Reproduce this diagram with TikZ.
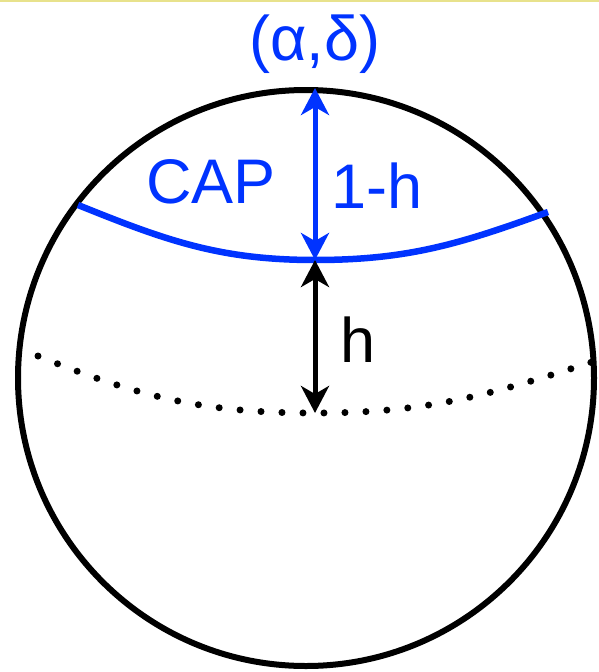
\documentclass[tikz,border=0pt]{standalone}
\usepackage{fontspec}
\setmainfont{Liberation Sans}
\usetikzlibrary{arrows.meta}
\definecolor{CapBlue}  {RGB}{  0,  51, 255}
\definecolor{EdgeBlack}{RGB}{  0,   0,   0}
\definecolor{TopYellow}{RGB}{232, 226, 140}
\tikzset{
  % sphere outline
  sphereline/.style={
    draw=EdgeBlack, line width=6pt
  },
  % cap boundary
  capline/.style={
    draw=CapBlue, line width=6.5pt
  },
  % equator (dotted, far side)
  equatorline/.style={
    draw=EdgeBlack, line width=7pt, line cap=round,
    dash pattern=on 0pt off 21pt
  },
  % double-headed distance arrow
  distarrow/.style={
    {Stealth[length=27pt, width=28pt, inset=8pt]}-{Stealth[length=27pt, width=28pt, inset=8pt]},
    line width=5pt
  },
  % label text
  biglabel/.style={
    font=\fontsize{63}{75}\selectfont, inner sep=0pt
  }
}

\begin{document}
\begin{tikzpicture}[x=1pt, y=-1pt]

  \useasboundingbox (0,0) rectangle (599,672);
  \draw[TopYellow, line width=2pt] (0,1) -- (599,1);

  % ── Sphere ───────────────────────────────────────────────────────────────
  \coordinate (centre) at (306,378);
  \draw[sphereline] (centre) circle[radius=288pt];

  % ── Key points ───────────────────────────────────────────────────────────
  \coordinate (pole)   at (315,88);
  \coordinate (capmid) at (315,260);
  \coordinate (eqmid)  at (315,413);
  \coordinate (capL)   at (78,205);
  \coordinate (capR)   at (548,212);
  \coordinate (eqL)    at (38,356);
  \coordinate (eqR)    at (592,362);

  % ── Equator and cap edge ─────────────────────────────────────────────────
  \draw[equatorline] (eqL) to[out=-22, in=180] (eqmid)
                           to[out=0, in=198] (eqR);
  \draw[capline] (capL) to[out=-22, in=180] (capmid)
                        to[out=0, in=200] (capR);

  % ── Distance arrows ──────────────────────────────────────────────────────
  \draw[distarrow, CapBlue]    (pole)   -- (capmid);
  \draw[distarrow, EdgeBlack]  (capmid) -- (eqmid);

  % ── Labels ───────────────────────────────────────────────────────────────
  \node[biglabel, text=CapBlue]   (radec)  at (315,44)  {(α,δ)};
  \node[biglabel, text=CapBlue]   (cap)    at (211,182) {CAP};
  \node[biglabel, text=CapBlue]   (oneh)   at (377,186) {1-h};
  \node[biglabel, text=EdgeBlack] (height) at (358,340) {h};

\end{tikzpicture}
\end{document}
